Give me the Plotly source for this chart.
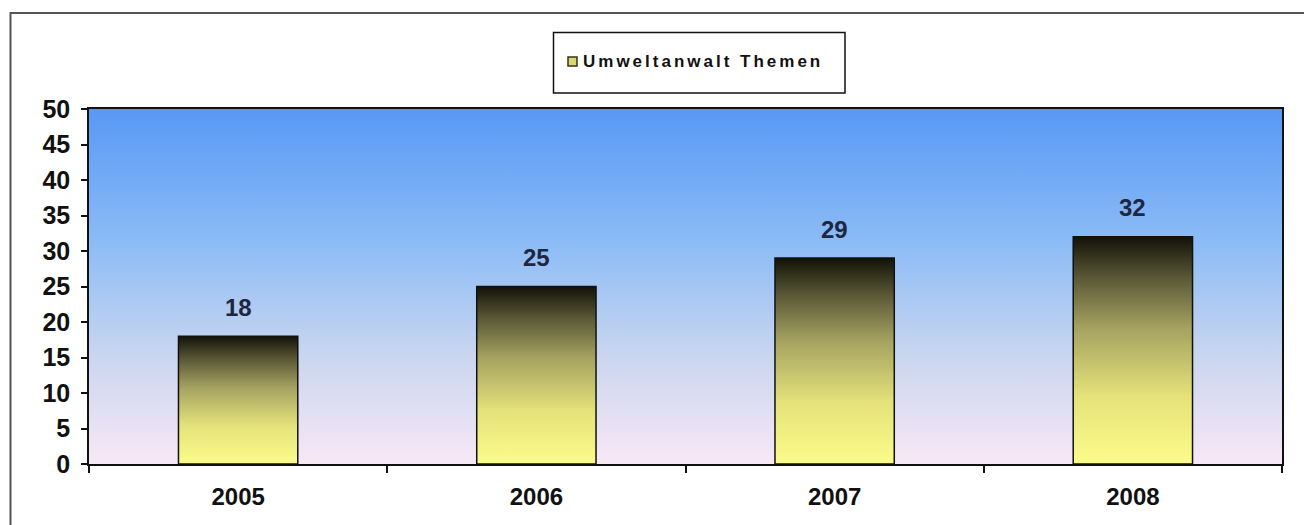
import plotly.graph_objects as go

# ---- data ----
years = ["2005", "2006", "2007", "2008"]
values = [18, 25, 29, 32]
series_name = "Umweltanwalt Themen"
y_ticks = [0, 5, 10, 15, 20, 25, 30, 35, 40, 45, 50]

# ---- layout geometry (pixels) ----
W, H = 1304, 525
L, R, T, B = 89, 22, 109, 61
PW, PH = W - L - R, H - T - B

def px(x):
    return (x - L) / PW

def py(y):
    return (H - B - y) / PH

FONT = "Liberation Sans, Arial, sans-serif"
bar_w = 0.40
xs = list(range(len(years)))

fig = go.Figure()

# plot-area gradient background
fig.add_trace(go.Scatter(
    x=[-0.5, 3.5, 3.5, -0.5, -0.5], y=[0, 0, 50, 50, 0],
    mode="lines", fill="toself", line=dict(width=0),
    fillgradient=dict(type="vertical",
                      colorscale=[[0, "#F8E8F6"], [0.3, "#CAD6EF"], [0.62, "#8DBCF6"], [1, "#5898F5"]]),
    hoverinfo="skip", showlegend=False))

# bars as gradient-filled polygons
bar_scale = [[0, "#FCFC8A"], [0.3, "#E4E27A"], [0.6, "#A4A260"], [0.82, "#5A5836"], [1, "#121208"]]
for xi, v in zip(xs, values):
    fig.add_trace(go.Scatter(
        x=[xi - bar_w / 2, xi + bar_w / 2, xi + bar_w / 2, xi - bar_w / 2, xi - bar_w / 2],
        y=[0, 0, v, v, 0],
        mode="lines", fill="toself", line=dict(color="#111111", width=1.5),
        fillgradient=dict(type="vertical", colorscale=bar_scale),
        hoverinfo="skip", showlegend=False))
    fig.add_annotation(x=xi, y=v, text=f"<b>{v}</b>", showarrow=False,
                       yshift=29, font=dict(family=FONT, size=24, color="#1E2640"))

# legend box + marker (shapes) and legend text
fig.add_shape(type="rect", xref="paper", yref="paper",
              x0=px(553.5), x1=px(845), y0=py(93), y1=py(32.5),
              line=dict(color="#111111", width=1.5), fillcolor="white", layer="above")
fig.add_shape(type="rect", xref="paper", yref="paper",
              x0=px(568), x1=px(577), y0=py(66), y1=py(57),
              line=dict(color="#333320", width=1.5), fillcolor="#D8D870", layer="above")
fig.add_annotation(xref="paper", yref="paper", x=px(581), y=py(62),
                   xanchor="left", yanchor="middle",
                   text=f"<span style='letter-spacing:3px;font-size:17px'><b>{series_name}</b></span>",
                   showarrow=False,
                   font=dict(family=FONT, size=17, color="#111111"))

# outer chart border
fig.add_shape(type="rect", xref="paper", yref="paper",
              x0=px(10.5), x1=px(1360), y0=py(560), y1=py(13),
              line=dict(color="#555555", width=2), fillcolor="rgba(0,0,0,0)", layer="below")

fig.update_layout(
    width=W, height=H,
    margin=dict(l=L, r=R, t=T, b=B),
    paper_bgcolor="white", plot_bgcolor="white",
    showlegend=False,
    xaxis=dict(range=[-0.5, 3.5], tickmode="array", tickvals=xs,
               ticktext=[f"<b>{y}</b>" for y in years],
               ticks="", showgrid=False, zeroline=False,
               showline=True, linecolor="#111111", linewidth=1.5, mirror=True,
               tickfont=dict(family=FONT, size=24, color="#111111"),
               ticklabelstandoff=10,
               minor=dict(tickmode="array", tickvals=[-0.5, 0.5, 1.5, 2.5, 3.5],
                          ticks="outside", ticklen=7, tickcolor="#111111", tickwidth=1.5,
                          showgrid=False)),
    yaxis=dict(range=[0, 50], tickmode="array", tickvals=y_ticks,
               ticktext=[f"<b>{t}</b>" for t in y_ticks],
               ticks="outside", ticklen=6, tickcolor="#111111", tickwidth=1.5,
               showgrid=False, zeroline=False,
               showline=True, linecolor="#111111", linewidth=1.5, mirror=True,
               tickfont=dict(family=FONT, size=25, color="#111111"),
               ticklabelstandoff=6),
)

fig.write_html("out.html")
